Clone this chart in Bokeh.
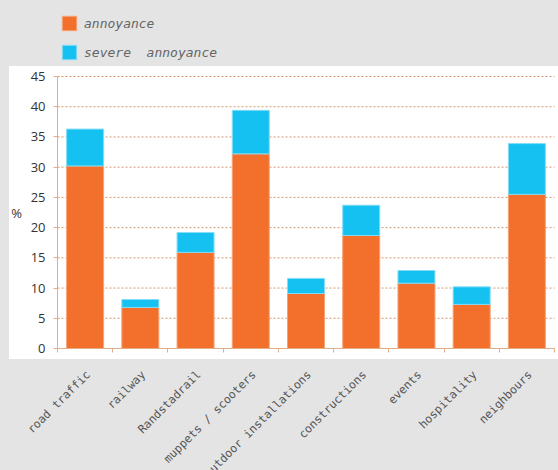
from bokeh.plotting import figure
from bokeh.models import (ColumnDataSource, Range1d, FixedTicker, Legend, LegendItem,
                          Label, LabelSet, LinearAxis)
from bokeh.core.properties import value
from bokeh.embed import file_html
from bokeh.resources import INLINE

categories = ["road traffic", "railway", "Randstadrail", "muppets / scooters",
              "outdoor installations", "constructions", "events", "hospitality",
              "neighbours"]
annoyance = [30.2, 6.8, 15.9, 32.2, 9.1, 18.7, 10.8, 7.3, 25.5]
severe = [6.1, 1.3, 3.3, 7.2, 2.5, 5.0, 2.1, 2.9, 8.4]
y_ticks = [0, 5, 10, 15, 20, 25, 30, 35, 40, 45]
series_names = ["annoyance", "severe  annoyance"]

ORANGE = "#F2702C"
BLUE = "#14C1F0"
GRID = "#d6976c"
AXIS = "#e2ae8a"

W, H = 558, 470
# pixel geometry of the axes box inside the canvas
AX_L, AX_R, AX_T, AX_B = 57, 554, 76, 348

n = len(categories)
ymax = y_ticks[-1]
xs = [i + 0.5 for i in range(n)]
ppx = (AX_R - AX_L) / n
ppy = (AX_B - AX_T) / ymax

source = ColumnDataSource(dict(x=xs, annoyance=annoyance, severe=severe, cat=categories,
                               ly=[-24 / ppy] * n))
grid_src = ColumnDataSource(dict(y=y_ticks[1:], x0=[0] * (len(y_ticks) - 1),
                                 x1=[n] * (len(y_ticks) - 1)))

p = figure(width=W, height=H, output_backend="svg", toolbar_location=None,
           x_range=Range1d(-AX_L / ppx, n + (W - AX_R) / ppx),
           y_range=Range1d(-(H - AX_B) / ppy, ymax + AX_T / ppy),
           x_axis_location=None, y_axis_location=None,
           min_border=0)
p.styles = {"background": "linear-gradient(#ffffff, #ffffff) 9px 66px / 549px 293px no-repeat, #e4e4e4"}
p.border_fill_color = None
p.background_fill_color = None
p.outline_line_color = None
p.xgrid.visible = False
p.ygrid.visible = False

# dotted horizontal gridlines
p.segment(x0="x0", x1="x1", y0="y", y1="y", source=grid_src, line_color=GRID,
          line_dash="2 2", line_width=1)

r = p.vbar_stack(["annoyance", "severe"], x="x", width=0.67, source=source,
                 color=[ORANGE, BLUE], line_color=["#f6a277", "#86dcf5"], line_width=1)

# x axis at y = 0, ticks at category boundaries
xaxis = LinearAxis(fixed_location=0, bounds=(0, n),
                   ticker=FixedTicker(ticks=[], minor_ticks=list(range(n + 1))),
                   major_label_text_font_size="0px", major_tick_out=0, major_tick_in=0,
                   minor_tick_out=4, minor_tick_in=0, axis_line_color=AXIS,
                   minor_tick_line_color=AXIS)
p.add_layout(xaxis, "below")

# y axis at x = 0
yaxis = LinearAxis(fixed_location=0, bounds=(0, ymax),
                   ticker=FixedTicker(ticks=y_ticks), major_tick_out=4, major_tick_in=0,
                   minor_tick_line_color=None, major_label_standoff=8,
                   major_label_text_font="Open Sans", major_label_text_font_size="13px",
                   major_label_text_color="#333333", axis_line_color=AXIS,
                   major_tick_line_color=AXIS)
p.add_layout(yaxis, "left")

labels = LabelSet(x="x", y="ly", text="cat", source=source, angle=0.785398,
                  x_offset=3, text_align="right", text_baseline="middle",
                  text_font=value("DejaVu Sans Mono"), text_font_size=value("11.5px"),
                  text_color="#555555")
p.add_layout(labels)

p.add_layout(Label(x=(16 - AX_L) / ppx, y=(AX_B - 212) / ppy, text="%",
                   text_font="Open Sans", text_font_size="13px", text_color="#333333",
                   text_align="center", text_baseline="middle"))

legend = Legend(items=[LegendItem(label=series_names[0], renderers=[r[0]]),
                       LegendItem(label=series_names[1], renderers=[r[1]])],
                location=(60, H - 61), orientation="vertical",
                glyph_width=18, glyph_height=18, label_height=18, spacing=11,
                label_standoff=6, padding=0, margin=0,
                border_line_color=None, background_fill_alpha=0,
                label_text_font="DejaVu Sans Mono", label_text_font_style="italic",
                label_text_font_size="13px", label_text_color="#666666")
p.add_layout(legend)

open("out.html", "w").write(file_html(p, INLINE))
